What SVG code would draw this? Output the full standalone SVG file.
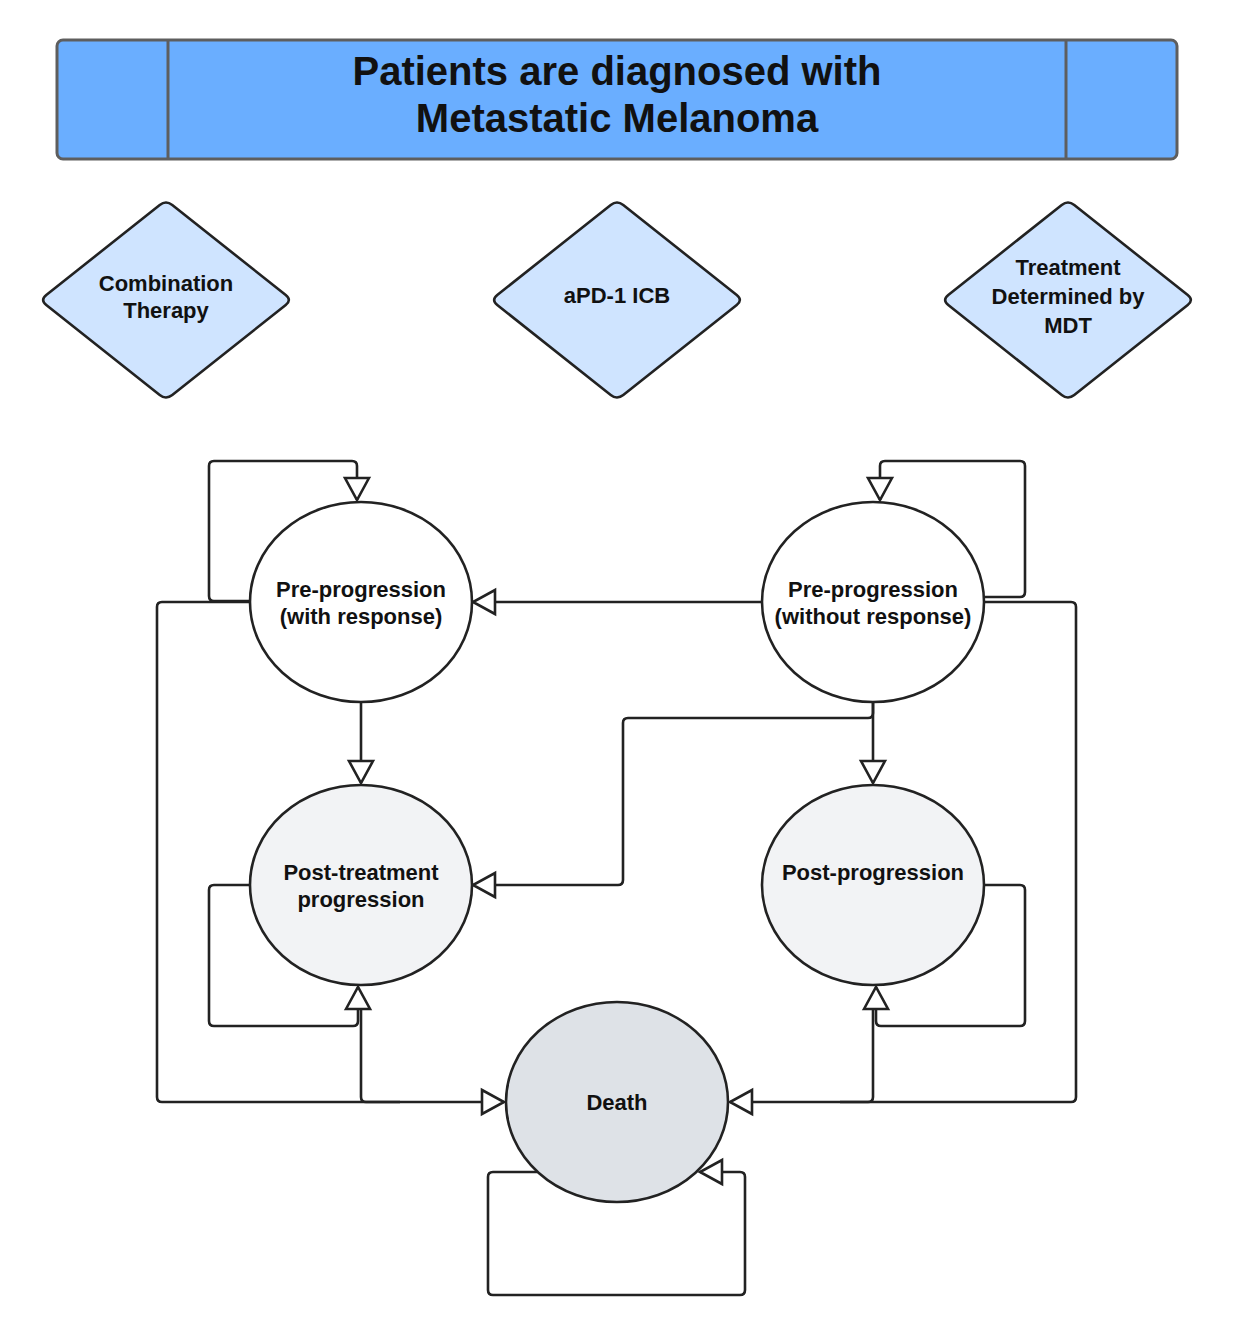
<svg xmlns="http://www.w3.org/2000/svg" width="1233" height="1336" viewBox="0 0 1233 1336">
<style>
  .t { font-family: "Liberation Sans", Arial, sans-serif; font-weight: bold; fill: #111; text-anchor: middle; }
  .title { font-size: 40px; }
  .lbl { font-size: 22px; }
  .dia { fill: #cfe4ff; stroke: #222; stroke-width: 2.6; }
  .st { stroke: #222; stroke-width: 2.6; }
  .con { fill: none; stroke: #222; stroke-width: 2.6; }
  .arr { marker-end: url(#tri); }
</style>
<defs>
  <marker id="tri" viewBox="0 0 26 28" markerWidth="26" markerHeight="28" refX="24" refY="14" orient="auto" markerUnits="userSpaceOnUse" overflow="visible">
    <path d="M2,2 L24,14 L2,26 Z" fill="#fff" stroke="#222" stroke-width="2.6"/>
  </marker>
  <path id="diamond" d="M 6.27,-95.03 L 119.73,-4.97 Q 126,0 119.73,4.97 L 6.27,95.03 Q 0,100 -6.27,95.03 L -119.73,4.97 Q -126,0 -119.73,-4.97 L -6.27,-95.03 Q 0,-100 6.27,-95.03 Z"/>
</defs>
<rect width="1233" height="1336" fill="#fff"/>

<g id="header">
  <rect x="57" y="40" width="1120" height="119" rx="6" fill="#6aaeff" stroke="#5e5e5e" stroke-width="3"/>
  <line x1="168" y1="41" x2="168" y2="158" stroke="#5e5e5e" stroke-width="3"/>
  <line x1="1066" y1="41" x2="1066" y2="158" stroke="#5e5e5e" stroke-width="3"/>
  <text class="t title" x="617" y="85">Patients are diagnosed with</text>
  <text class="t title" x="617" y="132">Metastatic Melanoma</text>
</g>

<g id="combination-therapy">
  <use href="#diamond" class="dia" transform="translate(166,300)"/>
  <text class="t lbl" x="166" y="291">Combination</text>
  <text class="t lbl" x="166" y="318">Therapy</text>
</g>
<g id="apd1-icb">
  <use href="#diamond" class="dia" transform="translate(617,300)"/>
  <text class="t lbl" x="617" y="303">aPD-1 ICB</text>
</g>
<g id="treatment-mdt">
  <use href="#diamond" class="dia" transform="translate(1068,300)"/>
  <text class="t lbl" x="1068" y="275">Treatment</text>
  <text class="t lbl" x="1068" y="304">Determined by</text>
  <text class="t lbl" x="1068" y="333">MDT</text>
</g>

<g id="connectors">
  <path class="con arr" d="M 250 601 L 214 601 Q 209 601 209 596 L 209 466 Q 209 461 214 461 L 352 461 Q 357 461 357 466 L 357 500"/>
  <path class="con arr" d="M 984 597 L 1020 597 Q 1025 597 1025 592 L 1025 466 Q 1025 461 1020 461 L 885 461 Q 880 461 880 466 L 880 500"/>
  <path class="con arr" d="M 762 602 L 473 602"/>
  <path class="con arr" d="M 361 702 L 361 783"/>
  <path class="con arr" d="M 873 702 L 873 783"/>
  <path class="con arr" d="M 873 702 L 873 713 Q 873 718 868 718 L 628 718 Q 623 718 623 723 L 623 880 Q 623 885 618 885 L 473 885"/>
  <path class="con arr" d="M 250 602 L 162 602 Q 157 602 157 607 L 157 1097 Q 157 1102 162 1102 L 504 1102"/>
  <path class="con arr" d="M 984 602 L 1071 602 Q 1076 602 1076 607 L 1076 1097 Q 1076 1102 1071 1102 L 730 1102"/>
  <path class="con" d="M 400 1102 L 366 1102 Q 361 1102 361 1097 L 361 1010"/>
  <path class="con arr" d="M 250 885 L 214 885 Q 209 885 209 890 L 209 1021 Q 209 1026 214 1026 L 353 1026 Q 358 1026 358 1021 L 358 987"/>
  <path class="con" d="M 840 1102 L 868 1102 Q 873 1102 873 1097 L 873 1010"/>
  <path class="con arr" d="M 984 885 L 1020 885 Q 1025 885 1025 890 L 1025 1021 Q 1025 1026 1020 1026 L 881 1026 Q 876 1026 876 1021 L 876 987"/>
  <path class="con arr" d="M 537 1172 L 493 1172 Q 488 1172 488 1177 L 488 1290 Q 488 1295 493 1295 L 740 1295 Q 745 1295 745 1290 L 745 1177 Q 745 1172 740 1172 L 700 1172"/>
</g>

<g id="pre-with-response">
  <ellipse cx="361" cy="602" rx="111" ry="100" fill="#fff" class="st"/>
  <text class="t lbl" x="361" y="597">Pre-progression</text>
  <text class="t lbl" x="361" y="624">(with response)</text>
</g>
<g id="pre-without-response">
  <ellipse cx="873" cy="602" rx="111" ry="100" fill="#fff" class="st"/>
  <text class="t lbl" x="873" y="597">Pre-progression</text>
  <text class="t lbl" x="873" y="624">(without response)</text>
</g>
<g id="post-treatment-progression">
  <ellipse cx="361" cy="885" rx="111" ry="100" fill="#f2f3f5" class="st"/>
  <text class="t lbl" x="361" y="880">Post-treatment</text>
  <text class="t lbl" x="361" y="907">progression</text>
</g>
<g id="post-progression">
  <ellipse cx="873" cy="885" rx="111" ry="100" fill="#f2f3f5" class="st"/>
  <text class="t lbl" x="873" y="880">Post-progression</text>
</g>
<g id="death">
  <ellipse cx="617" cy="1102" rx="111" ry="100" fill="#dee2e7" class="st"/>
  <text class="t lbl" x="617" y="1110">Death</text>
</g>
</svg>
